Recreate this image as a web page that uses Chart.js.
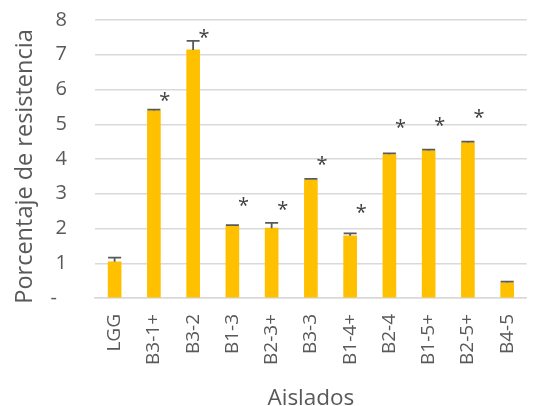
<!DOCTYPE html>
<html>
<head>
<meta charset="utf-8">
<script src="https://cdn.jsdelivr.net/npm/chart.js@4/dist/chart.umd.min.js"></script>
<style>
  html, body { margin: 0; padding: 0; background: #fff; overflow: hidden; }
  #wrap { width: 546px; height: 406px; }
</style>
</head>
<body>
<div id="wrap"><canvas id="c" width="546" height="406"></canvas></div>
<script>
// Isolates and their resistance percentage
const categories = ['LGG', 'B3-1+', 'B3-2', 'B1-3', 'B2-3+', 'B3-3', 'B1-4+', 'B2-4', 'B1-5+', 'B2-5+', 'B4-5'];
const resistance = [1.04, 5.39, 7.14, 2.07, 2.01, 3.40, 1.79, 4.13, 4.24, 4.47, 0.44];
// Upper error (plus only)
const errorPlus = [0.12, 0.03, 0.26, 0.03, 0.15, 0.03, 0.07, 0.03, 0.03, 0.03, 0.03];
// Height at which the significance mark is placed (null = no mark)
const starLevel = [null, 5.81, 7.62, 2.79, 2.68, 3.97, 2.59, 5.03, 5.10, 5.33, null];
const yTicks = [0, 1, 2, 3, 4, 5, 6, 7, 8];
const xTitle = 'Aislados';
const yTitle = 'Porcentaje de resistencia';

const textColor = '#595959';
const family = '"Open Sans", "DejaVu Sans", sans-serif';

// Error bars, significance asterisks and axis titles
const annotations = {
  id: 'annotations',
  afterDatasetsDraw(chart) {
    const ctx = chart.ctx;
    const x = chart.scales.x, y = chart.scales.y;
    const meta = chart.getDatasetMeta(0);
    ctx.save();
    ctx.strokeStyle = '#595959';
    ctx.lineWidth = 1.8;
    meta.data.forEach((bar, i) => {
      const half = bar.width / 2;
      const top = y.getPixelForValue(resistance[i]);
      const end = y.getPixelForValue(resistance[i] + errorPlus[i]);
      ctx.beginPath();
      ctx.moveTo(bar.x, top);
      ctx.lineTo(bar.x, end);
      ctx.moveTo(bar.x - half, end);
      ctx.lineTo(bar.x + half, end);
      ctx.stroke();
    });
    ctx.fillStyle = '#404040';
    ctx.font = '20px ' + family;
    ctx.textAlign = 'center';
    ctx.textBaseline = 'alphabetic';
    starLevel.forEach((lvl, i) => {
      if (lvl === null) return;
      const px = x.getPixelForValue(i) + 11;
      const py = y.getPixelForValue(lvl);
      ctx.fillText('*', px, py + 11);
    });
    ctx.restore();
  },
  afterDraw(chart) {
    const ctx = chart.ctx;
    const area = chart.chartArea;
    ctx.save();
    ctx.fillStyle = textColor;
    ctx.textAlign = 'center';
    ctx.textBaseline = 'alphabetic';
    ctx.font = '22.5px ' + family;
    ctx.fillText(xTitle, (area.left + area.right) / 2, 405);
    ctx.translate(32, area.top + 146.5);
    ctx.rotate(-Math.PI / 2);
    ctx.font = '23.5px ' + family;
    ctx.fillText(yTitle, 0, 0);
    ctx.restore();
  }
};

new Chart(document.getElementById('c'), {
  type: 'bar',
  data: {
    labels: categories,
    datasets: [{
      data: resistance,
      backgroundColor: '#FFC000',
      borderWidth: 0,
      barThickness: 13
    }]
  },
  options: {
    responsive: false,
    animation: false,
    layout: { padding: { top: 20, right: 1, left: 0, bottom: 0 } },
    plugins: { legend: { display: false }, tooltip: { enabled: false } },
    scales: {
      x: {
        grid: { display: false, drawTicks: false },
        border: { display: true, color: '#d9d9d9', width: 1.5 },
        ticks: {
          color: textColor,
          font: { family, size: 19 },
          minRotation: 90,
          maxRotation: 90,
          padding: 16,
          autoSkip: false
        },
        afterFit(scale) { scale.height = 108; }
      },
      y: {
        min: 0,
        max: 8,
        afterBuildTicks(scale) { scale.ticks = yTicks.map(v => ({ value: v })); },
        grid: { color: '#d9d9d9', lineWidth: 1.5, drawTicks: false },
        border: { display: false },
        ticks: {
          color: textColor,
          font: { family, size: 20 },
          padding: 28,
          callback: v => (v === 0 ? '-\u2002' : String(v))
        },
        afterFit(scale) {
          scale.width = 95;
          scale.paddingTop = 0;
          scale.paddingBottom = 0;
        }
      }
    }
  },
  plugins: [annotations]
});
</script>
</body>
</html>
